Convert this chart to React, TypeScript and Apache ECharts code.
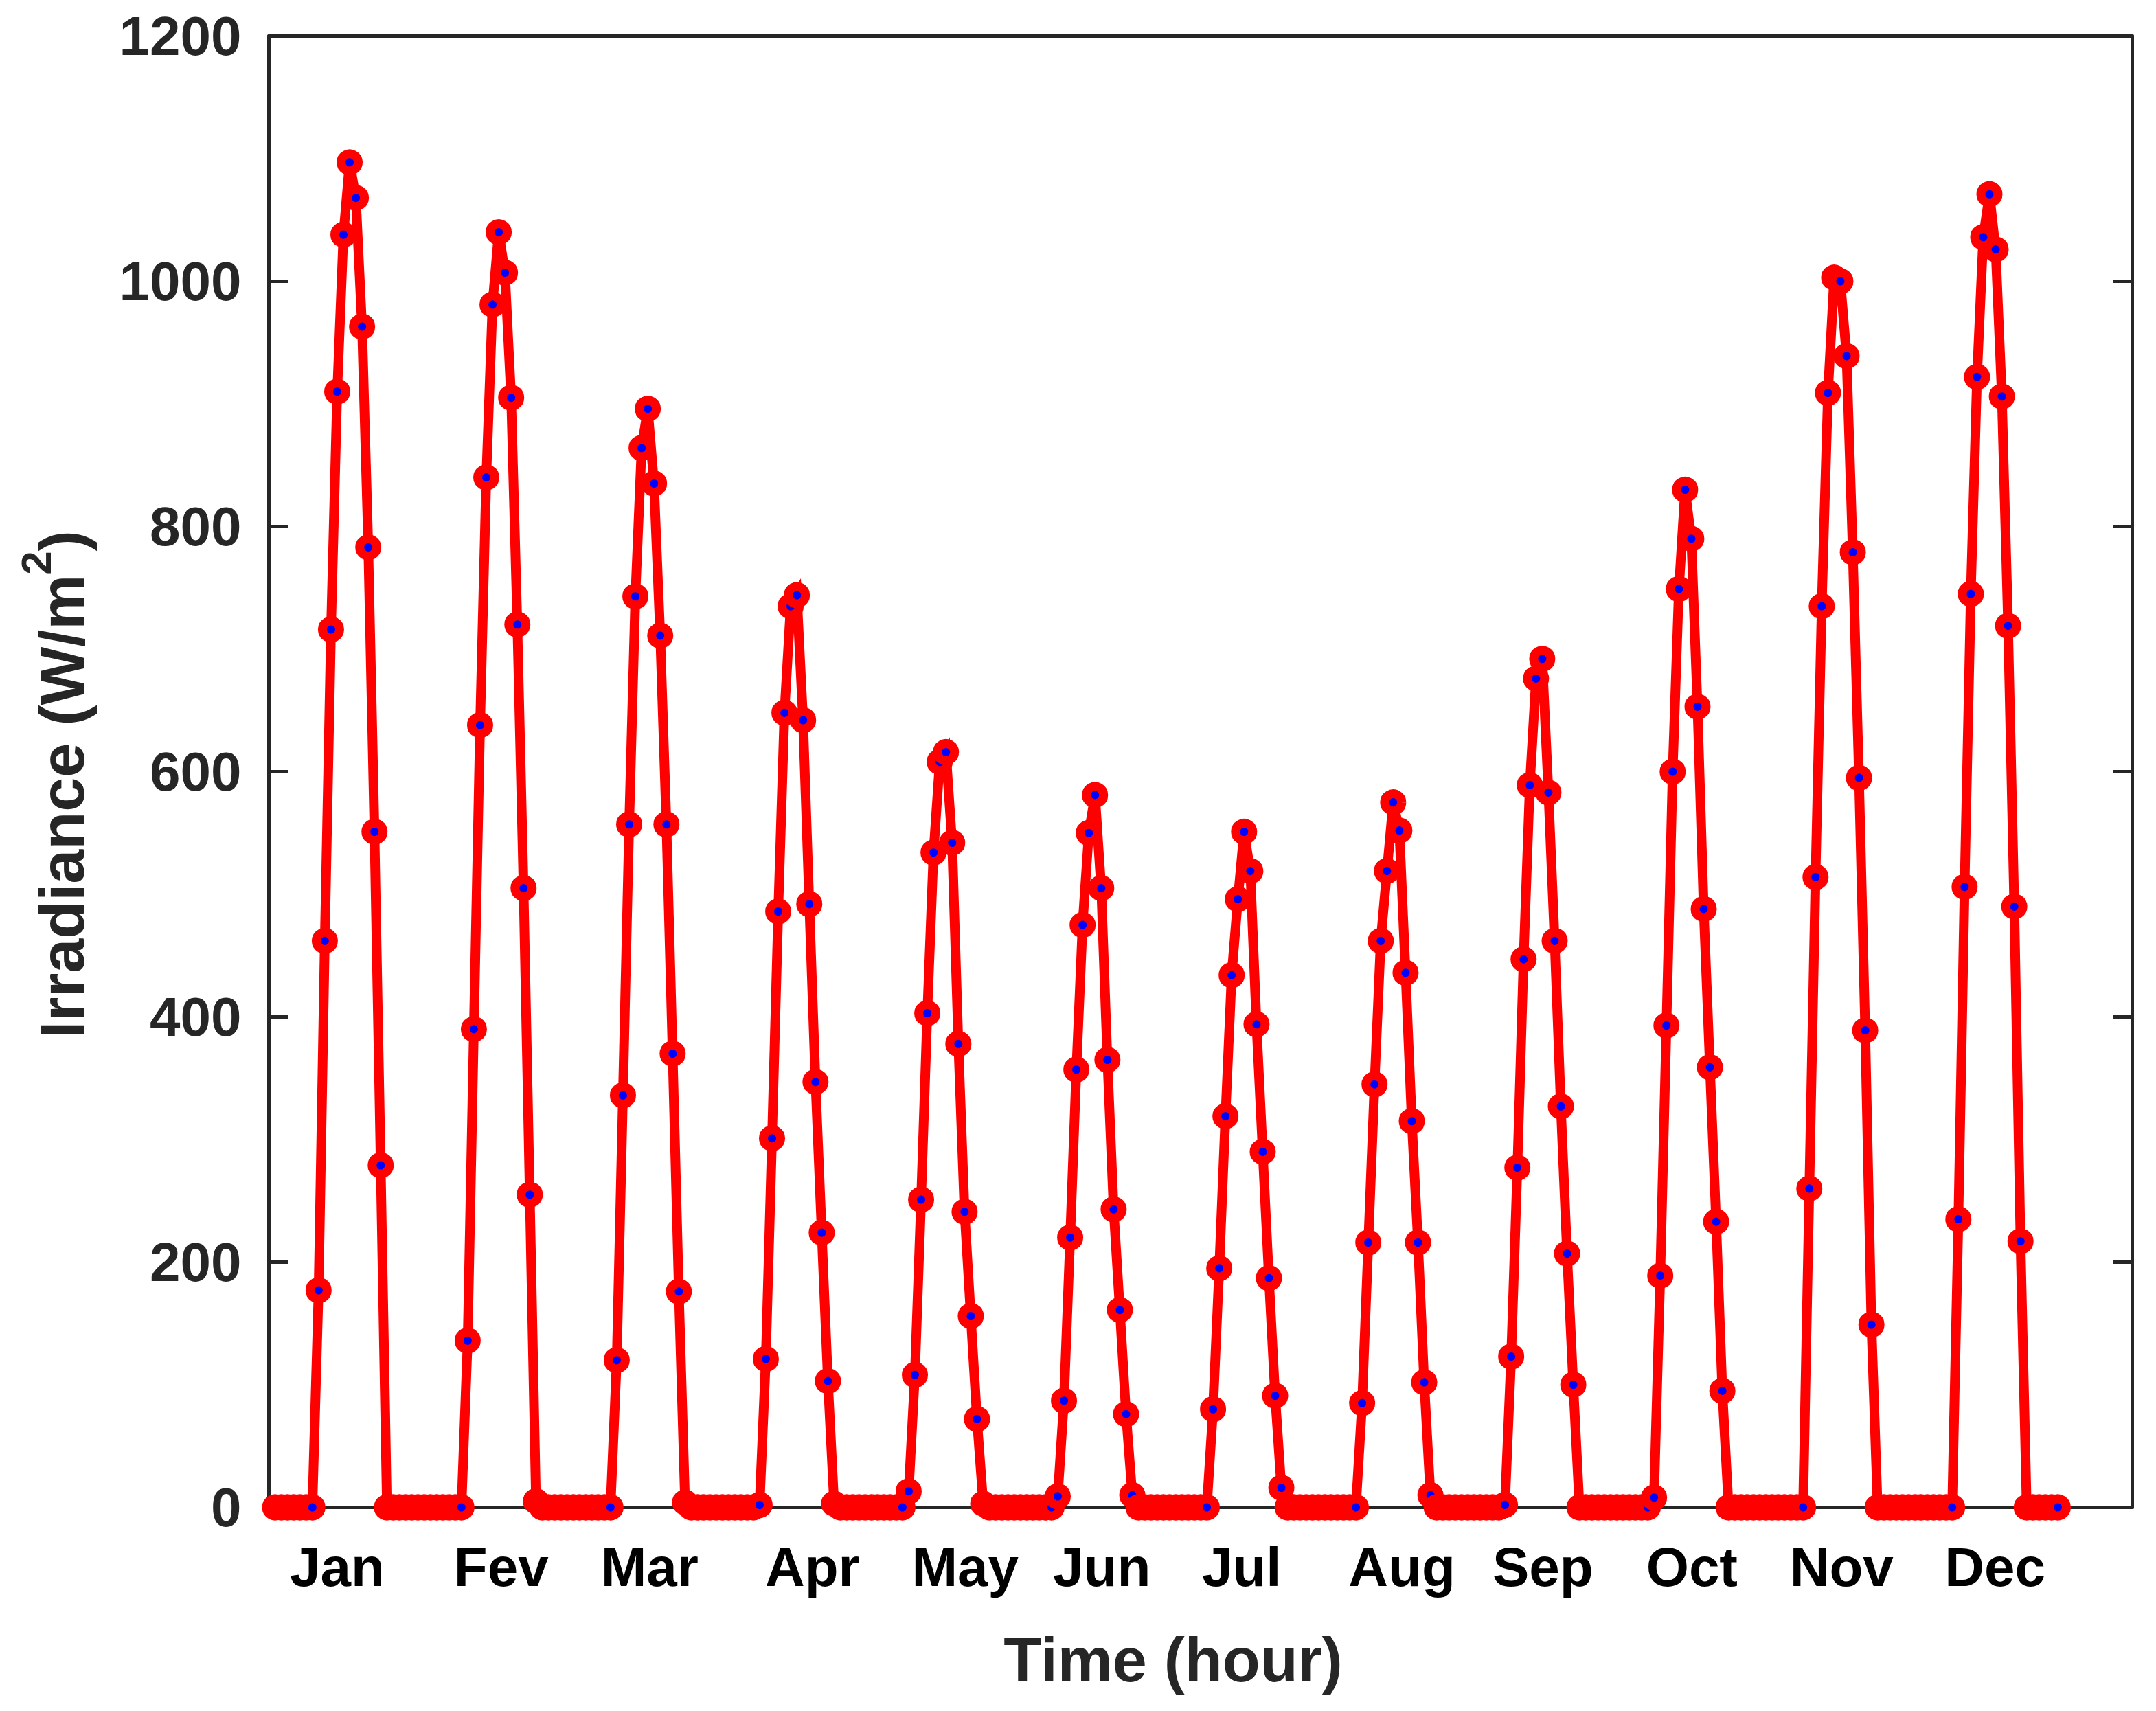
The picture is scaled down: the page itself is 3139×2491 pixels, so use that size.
import React, { useEffect, useRef } from "react";
import * as echarts from "echarts";

// Hour of the day (1..24) for each of the 24 samples of a month
const HOURS_OF_DAY = [1, 2, 3, 4, 5, 6, 7, 8, 9, 10, 11, 12, 13, 14, 15, 16, 17, 18, 19, 20, 21, 22, 23, 24];

// Irradiance (W/m2), one representative day per month
const jan = [0, 0, 0, 0, 0, 0, 0, 177, 462, 716, 910, 1038, 1097, 1068, 963, 783, 551, 279, 0, 0, 0, 0, 0, 0];
const fev = [0, 0, 0, 0, 0, 0, 0, 136, 390, 638, 840, 981, 1040, 1007, 905, 720, 505, 255, 5, 0, 0, 0, 0, 0];
const mar = [0, 0, 0, 0, 0, 0, 0, 120, 336, 557, 743, 864, 896, 835, 711, 557, 370, 176, 4, 0, 0, 0, 0, 0];
const apr = [0, 0, 0, 0, 0, 0, 2, 121, 301, 486, 648, 735, 744, 642, 492, 347, 224, 103, 3, 0, 0, 0, 0, 0];
const may = [0, 0, 0, 0, 0, 0, 13, 108, 251, 403, 534, 608, 616, 542, 378, 241, 156, 72, 3, 0, 0, 0, 0, 0];
const jun = [0, 0, 0, 0, 0, 0, 9, 87, 220, 357, 475, 550, 581, 505, 365, 243, 161, 76, 10, 0, 0, 0, 0, 0];
const jul = [0, 0, 0, 0, 0, 0, 0, 80, 195, 319, 434, 496, 551, 519, 394, 290, 187, 91, 16, 0, 0, 0, 0, 0];
const aug = [0, 0, 0, 0, 0, 0, 0, 85, 216, 345, 462, 519, 575, 552, 436, 315, 216, 102, 10, 0, 0, 0, 0, 0];
const sep = [0, 0, 0, 0, 0, 0, 2, 123, 277, 447, 589, 676, 692, 583, 462, 327, 207, 100, 0, 0, 0, 0, 0, 0];
const oct = [0, 0, 0, 0, 0, 0, 8, 189, 393, 600, 749, 830, 790, 653, 488, 359, 233, 95, 0, 0, 0, 0, 0, 0];
const nov = [0, 0, 0, 0, 0, 0, 0, 260, 514, 735, 909, 1003, 1000, 939, 779, 595, 389, 149, 0, 0, 0, 0, 0, 0];
const dec = [0, 0, 0, 0, 0, 0, 0, 235, 506, 745, 922, 1036, 1071, 1026, 906, 719, 490, 217, 0, 0, 0, 0, 0, 0];

const MONTH_SERIES = [jan, fev, mar, apr, may, jun, jul, aug, sep, oct, nov, dec];

// Month tick labels and their positions on the hour axis
const MONTH_LABELS = ["Jan", "Fev", "Mar", "Apr", "May", "Jun", "Jul", "Aug", "Sep", "Oct", "Nov", "Dec"];
const MONTH_LABEL_POS = [11.0, 37.4, 61.3, 87.5, 112.1, 134.1, 156.6, 182.4, 205.1, 229.1, 253.2, 277.9];

const X_MIN = 0;
const X_MAX = 300;
const Y_MIN = 0;
const Y_MAX = 1200;
const Y_STEP = 200;

const FONT = "'Liberation Sans', Arial, Helvetica, sans-serif";
const AXIS_COLOR = "#262626";

export default function App() {
  const ref = useRef<HTMLDivElement>(null);

  useEffect(() => {
    if (!ref.current) return;
    const chart = echarts.init(ref.current, undefined, { renderer: "svg" });

    const data: number[][] = [];
    MONTH_SERIES.forEach((vals, m) => {
      vals.forEach((v, k) => {
        data.push([m * 24 + HOURS_OF_DAY[k], v]);
      });
    });

    const axisLine = { show: true, onZero: false, lineStyle: { color: AXIS_COLOR, width: 5 } };

    chart.setOption({
      animation: false,
      backgroundColor: "#ffffff",
      grid: { left: 391.5, right: 34.5, top: 52.5, bottom: 296.5, containLabel: false },
      xAxis: [
        {
          type: "value",
          min: X_MIN,
          max: X_MAX,
          position: "bottom",
          axisLine,
          axisTick: { show: false },
          splitLine: { show: false },
          axisLabel: {
            customValues: MONTH_LABEL_POS,
            formatter: (v: number) => {
              const i = MONTH_LABEL_POS.findIndex((p) => Math.abs(p - v) < 0.01);
              return i >= 0 ? MONTH_LABELS[i] : "";
            },
            fontFamily: FONT,
            fontWeight: "bold",
            fontSize: 80,
            color: "#000000",
            margin: 47,
          },
          name: "Time (hour)",
          nameLocation: "middle",
          nameGap: 177,
          nameTextStyle: {
            fontFamily: FONT,
            fontWeight: "bold",
            fontSize: 90,
            color: AXIS_COLOR,
            padding: [0, 80, 0, 0],
          },
        },
        {
          type: "value",
          min: X_MIN,
          max: X_MAX,
          position: "top",
          axisLine,
          axisTick: { show: false },
          axisLabel: { show: false },
          splitLine: { show: false },
        },
      ],
      yAxis: [
        {
          type: "value",
          min: Y_MIN,
          max: Y_MAX,
          interval: Y_STEP,
          position: "left",
          axisLine,
          axisTick: { show: true, inside: true, length: 28, lineStyle: { color: AXIS_COLOR, width: 5 } },
          splitLine: { show: false },
          axisLabel: {
            formatter: (v: number) => String(v),
            fontFamily: FONT,
            fontWeight: "bold",
            fontSize: 80,
            color: AXIS_COLOR,
            margin: 40,
          },
          name: "{a|Irradiance (W/m}{b|2}{a|)}",
          nameLocation: "middle",
          nameRotate: 90,
          nameGap: 256,
          nameTextStyle: {
            fontFamily: FONT,
            fontWeight: "bold",
            fontSize: 90,
            color: AXIS_COLOR,
            padding: [0, 37, 0, 0],
            rich: {
              a: {
                fontFamily: FONT,
                fontWeight: "bold",
                fontSize: 90,
                lineHeight: 90,
                color: AXIS_COLOR,
                verticalAlign: "bottom",
              },
              b: {
                fontFamily: FONT,
                fontWeight: "bold",
                fontSize: 62,
                lineHeight: 62,
                color: AXIS_COLOR,
                verticalAlign: "bottom",
                padding: [0, 0, 52, 0],
              },
            },
          },
        },
        {
          type: "value",
          min: Y_MIN,
          max: Y_MAX,
          interval: Y_STEP,
          position: "right",
          axisLine,
          axisTick: { show: true, inside: true, length: 28, lineStyle: { color: AXIS_COLOR, width: 5 } },
          axisLabel: { show: false },
          splitLine: { show: false },
        },
      ],
      series: [
        {
          type: "line",
          xAxisIndex: 0,
          yAxisIndex: 0,
          data,
          clip: false,
          showSymbol: true,
          showAllSymbol: true,
          symbol: "circle",
          symbolSize: 25,
          itemStyle: { color: "#0000ff", borderColor: "#ff0000", borderWidth: 13 },
          lineStyle: { color: "#ff0000", width: 14, join: "miter" },
          emphasis: { disabled: true },
          z: 3,
        },
      ],
    });

    return () => chart.dispose();
  }, []);

  return (
    <div
      ref={ref}
      style={{ position: "absolute", left: 0, top: 0, width: 3139, height: 2491, background: "#fff" }}
    />
  );
}
